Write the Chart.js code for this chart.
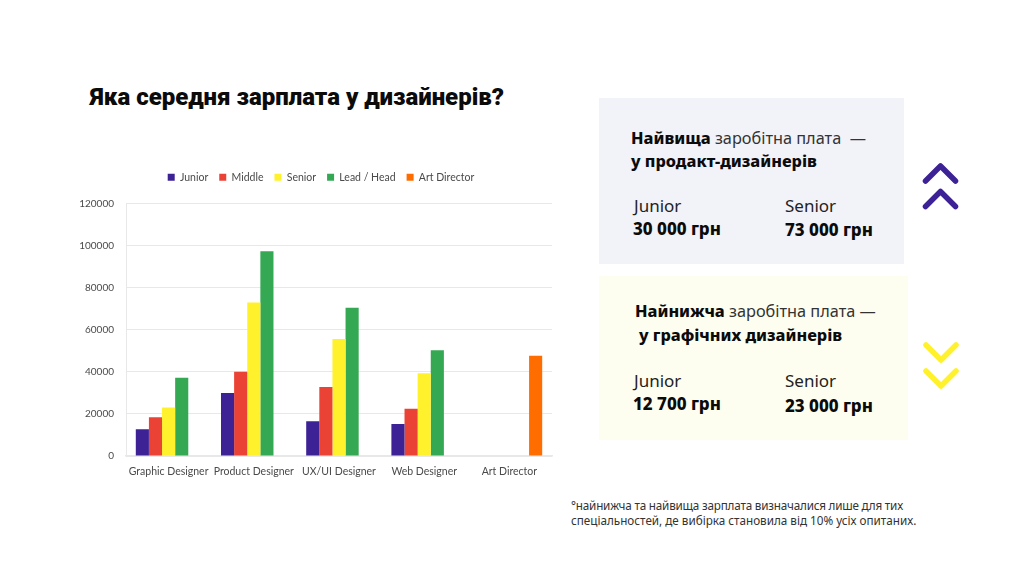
<!DOCTYPE html>
<html lang="uk">
<head>
<meta charset="utf-8">
<title>Зарплата дизайнерів</title>
<script src="https://cdn.jsdelivr.net/npm/chart.js@4/dist/chart.umd.min.js"></script>
<style>
  html, body { margin: 0; padding: 0; background: #fff; }
  body { width: 1024px; height: 576px; position: relative; overflow: hidden; font-family: "Noto Sans", sans-serif; color: #111; }
  .t { position: absolute; white-space: nowrap; }
  .panel { position: absolute; }
  #chartBox { position: absolute; left: 70px; top: 160px; width: 520px; height: 330px; }
  h1 { position: absolute; left: 90px; top: 81px; margin: 0; font-family: Roboto, sans-serif; font-size: 24px; font-weight: 900; line-height: 32px; white-space: nowrap; color: #0b0b0b; }
  .head { font-size: 16.3px; line-height: 24px; color: #333; }
  .head b { font-weight: 800; color: #0b0b0b; }
  .lvl { font-size: 17px; line-height: 22px; color: #222; }
  .sum { font-size: 17px; line-height: 22px; font-weight: 800; color: #0b0b0b; }
  .note { font-size: 11.7px; line-height: 16px; color: #333; }
  svg { position: absolute; }
</style>
</head>
<body>
<h1>Яка середня зарплата у дизайнерів?</h1>

<div class="panel" style="left:599px;top:98px;width:305px;height:166px;background:#f2f2f9"></div>
<div class="panel" style="left:599px;top:276px;width:309px;height:164px;background:#fefef0"></div>

<div class="t head" style="left:631px;top:126px"><b>Найвища</b> заробітна плата &nbsp;—</div>
<div class="t head" style="left:631px;top:149px"><b>у продакт-дизайнерів</b></div>
<div class="t lvl" style="left:634px;top:195px">Junior</div>
<div class="t sum" style="left:633px;top:218px">30 000 грн</div>
<div class="t lvl" style="left:785px;top:195px">Senior</div>
<div class="t sum" style="left:785px;top:219px">73 000 грн</div>

<div class="t head" style="left:635px;top:299px"><b>Найнижча</b> заробітна плата —</div>
<div class="t head" style="left:639px;top:323px"><b>у графічних дизайнерів</b></div>
<div class="t lvl" style="left:634px;top:370px">Junior</div>
<div class="t sum" style="left:633px;top:393px">12 700 грн</div>
<div class="t lvl" style="left:785px;top:370px">Senior</div>
<div class="t sum" style="left:785px;top:395px">23 000 грн</div>

<svg style="left:920px;top:158px" width="42" height="56" fill="none" stroke="#3d2296" stroke-width="5.5" stroke-linecap="round" stroke-linejoin="round">
  <polyline points="5.5,23 20.5,8 35.5,23"/><polyline points="5.5,48.5 20.5,33.5 35.5,48.5"/>
</svg>
<svg style="left:920px;top:338px" width="42" height="56" fill="none" stroke="#fff22d" stroke-width="5.5" stroke-linecap="round" stroke-linejoin="round">
  <polyline points="6,7 21,22 36,7"/><polyline points="6,33 21,48 36,33"/>
</svg>

<div class="t note" style="left:571px;top:497px;letter-spacing:-0.2px">°найнижча та найвища зарплата визначалися лише для тих</div>
<div class="t note" style="left:571px;top:512px">спеціальностей, де вибірка становила від 10% усіх опитаних.</div>

<div id="chartBox"><canvas id="salaryChart"></canvas></div>

<script>
// categories and series
const categories = ['Graphic Designer', 'Product Designer', 'UX/UI Designer', 'Web Designer', 'Art Director'];
const junior = [12700, 30000, 16500, 15200, null];
const middle = [18400, 40000, 32800, 22500, null];
const senior = [23000, 73000, 55600, 39300, null];
const lead = [37200, 97300, 70400, 50300, null];
const artDirector = [null, null, null, null, 47700];

const GRID = '#e8e8e8';
const LABEL = '#4a4a4a';

function series(label, data, color) {
  return { label: label, data: data, backgroundColor: color, barPercentage: 1, categoryPercentage: 0.77 };
}

// extra gap under the legend, and nudge it right of centre
const legendTweak = {
  id: 'legendTweak',
  beforeInit(chart) {
    const fit = chart.legend.fit;
    chart.legend.fit = function () {
      fit.call(this);
      this.height += 11;
    };
  },
  afterLayout(chart) {
    chart.legend.left += 10;
    chart.legend.right += 10;
  }
};

new Chart(document.getElementById('salaryChart'), {
  type: 'bar',
  plugins: [legendTweak],
  data: {
    labels: categories,
    datasets: [
      series('Junior', junior, '#3d2296'),
      series('Middle', middle, '#ea4335'),
      series('Senior', senior, '#fff22d'),
      series('Lead / Head', lead, '#34a853'),
      series('Art Director', artDirector, '#ff6d01')
    ]
  },
  options: {
    responsive: true,
    maintainAspectRatio: false,
    animation: false,
    layout: { padding: { top: 1, right: 38, bottom: 0, left: 0 } },
    plugins: {
      tooltip: { enabled: false },
      legend: {
        position: 'top',
        labels: {
          boxWidth: 7, boxHeight: 7, padding: 11,
          color: LABEL,
          font: { family: 'Lato', size: 10.5 }
        }
      }
    },
    scales: {
      x: {
        grid: { display: false },
        border: { color: GRID, width: 1.5 },
        ticks: { color: LABEL, font: { family: 'Lato', size: 10.5 }, maxRotation: 0, autoSkip: false, padding: 1 },
        afterFit: function (scale) { scale.height = 34; }
      },
      y: {
        min: 0, max: 120000,
        grid: { color: GRID, drawTicks: false },
        border: { color: GRID },
        ticks: {
          stepSize: 20000, color: LABEL, font: { family: 'Lato', size: 10 }, padding: 12,
          callback: function (value) { return String(value); }
        },
        afterFit: function (scale) { scale.width = 56; }
      }
    }
  }
});
</script>
</body>
</html>
